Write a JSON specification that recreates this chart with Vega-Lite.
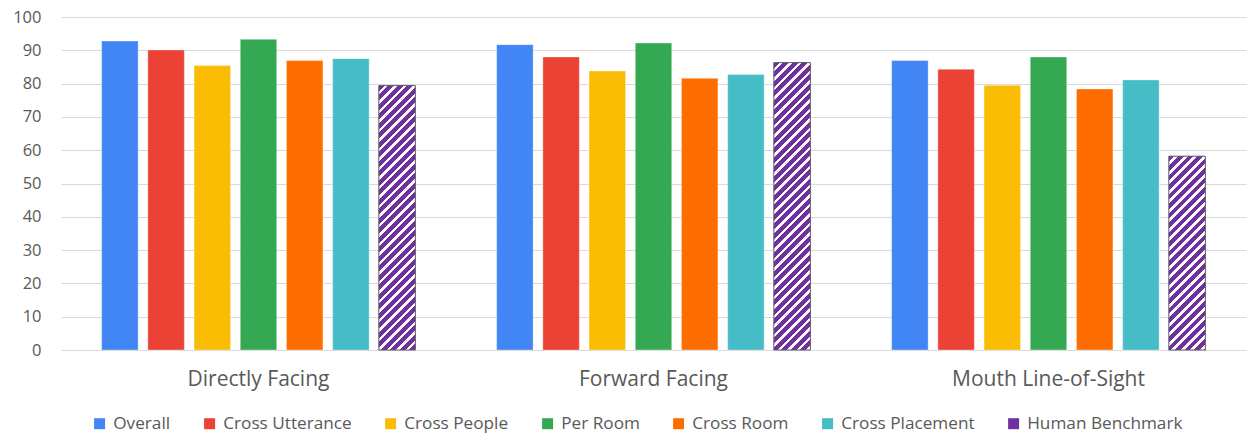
{
  "$schema": "https://vega.github.io/schema/vega-lite/v6.json",
  "width": 1185,
  "height": 333,
  "autosize": "none",
  "padding": {"left": 61, "top": 17, "right": 3, "bottom": 85},
  "config": {"view": {"stroke": null}, "font": "Open Sans"},
  "params": [
    {"name": "stripes", "value": [
      {"offset":0,"color":"#7030a0"},{"offset":0.0171,"color":"#7030a0"},{"offset":0.0171,"color":"#fff"},{"offset":0.0286,"color":"#fff"},
      {"offset":0.0286,"color":"#7030a0"},{"offset":0.0457,"color":"#7030a0"},{"offset":0.0457,"color":"#fff"},{"offset":0.0571,"color":"#fff"},
      {"offset":0.0571,"color":"#7030a0"},{"offset":0.0743,"color":"#7030a0"},{"offset":0.0743,"color":"#fff"},{"offset":0.0857,"color":"#fff"},
      {"offset":0.0857,"color":"#7030a0"},{"offset":0.1029,"color":"#7030a0"},{"offset":0.1029,"color":"#fff"},{"offset":0.1143,"color":"#fff"},
      {"offset":0.1143,"color":"#7030a0"},{"offset":0.1314,"color":"#7030a0"},{"offset":0.1314,"color":"#fff"},{"offset":0.1429,"color":"#fff"},
      {"offset":0.1429,"color":"#7030a0"},{"offset":0.16,"color":"#7030a0"},{"offset":0.16,"color":"#fff"},{"offset":0.1714,"color":"#fff"},
      {"offset":0.1714,"color":"#7030a0"},{"offset":0.1886,"color":"#7030a0"},{"offset":0.1886,"color":"#fff"},{"offset":0.2,"color":"#fff"},
      {"offset":0.2,"color":"#7030a0"},{"offset":0.2171,"color":"#7030a0"},{"offset":0.2171,"color":"#fff"},{"offset":0.2286,"color":"#fff"},
      {"offset":0.2286,"color":"#7030a0"},{"offset":0.2457,"color":"#7030a0"},{"offset":0.2457,"color":"#fff"},{"offset":0.2571,"color":"#fff"},
      {"offset":0.2571,"color":"#7030a0"},{"offset":0.2743,"color":"#7030a0"},{"offset":0.2743,"color":"#fff"},{"offset":0.2857,"color":"#fff"},
      {"offset":0.2857,"color":"#7030a0"},{"offset":0.3029,"color":"#7030a0"},{"offset":0.3029,"color":"#fff"},{"offset":0.3143,"color":"#fff"},
      {"offset":0.3143,"color":"#7030a0"},{"offset":0.3314,"color":"#7030a0"},{"offset":0.3314,"color":"#fff"},{"offset":0.3429,"color":"#fff"},
      {"offset":0.3429,"color":"#7030a0"},{"offset":0.36,"color":"#7030a0"},{"offset":0.36,"color":"#fff"},{"offset":0.3714,"color":"#fff"},
      {"offset":0.3714,"color":"#7030a0"},{"offset":0.3886,"color":"#7030a0"},{"offset":0.3886,"color":"#fff"},{"offset":0.4,"color":"#fff"},
      {"offset":0.4,"color":"#7030a0"},{"offset":0.4171,"color":"#7030a0"},{"offset":0.4171,"color":"#fff"},{"offset":0.4286,"color":"#fff"},
      {"offset":0.4286,"color":"#7030a0"},{"offset":0.4457,"color":"#7030a0"},{"offset":0.4457,"color":"#fff"},{"offset":0.4571,"color":"#fff"},
      {"offset":0.4571,"color":"#7030a0"},{"offset":0.4743,"color":"#7030a0"},{"offset":0.4743,"color":"#fff"},{"offset":0.4857,"color":"#fff"},
      {"offset":0.4857,"color":"#7030a0"},{"offset":0.5029,"color":"#7030a0"},{"offset":0.5029,"color":"#fff"},{"offset":0.5143,"color":"#fff"},
      {"offset":0.5143,"color":"#7030a0"},{"offset":0.5314,"color":"#7030a0"},{"offset":0.5314,"color":"#fff"},{"offset":0.5429,"color":"#fff"},
      {"offset":0.5429,"color":"#7030a0"},{"offset":0.56,"color":"#7030a0"},{"offset":0.56,"color":"#fff"},{"offset":0.5714,"color":"#fff"},
      {"offset":0.5714,"color":"#7030a0"},{"offset":0.5886,"color":"#7030a0"},{"offset":0.5886,"color":"#fff"},{"offset":0.6,"color":"#fff"},
      {"offset":0.6,"color":"#7030a0"},{"offset":0.6171,"color":"#7030a0"},{"offset":0.6171,"color":"#fff"},{"offset":0.6286,"color":"#fff"},
      {"offset":0.6286,"color":"#7030a0"},{"offset":0.6457,"color":"#7030a0"},{"offset":0.6457,"color":"#fff"},{"offset":0.6571,"color":"#fff"},
      {"offset":0.6571,"color":"#7030a0"},{"offset":0.6743,"color":"#7030a0"},{"offset":0.6743,"color":"#fff"},{"offset":0.6857,"color":"#fff"},
      {"offset":0.6857,"color":"#7030a0"},{"offset":0.7029,"color":"#7030a0"},{"offset":0.7029,"color":"#fff"},{"offset":0.7143,"color":"#fff"},
      {"offset":0.7143,"color":"#7030a0"},{"offset":0.7314,"color":"#7030a0"},{"offset":0.7314,"color":"#fff"},{"offset":0.7429,"color":"#fff"},
      {"offset":0.7429,"color":"#7030a0"},{"offset":0.76,"color":"#7030a0"},{"offset":0.76,"color":"#fff"},{"offset":0.7714,"color":"#fff"},
      {"offset":0.7714,"color":"#7030a0"},{"offset":0.7886,"color":"#7030a0"},{"offset":0.7886,"color":"#fff"},{"offset":0.8,"color":"#fff"},
      {"offset":0.8,"color":"#7030a0"},{"offset":0.8171,"color":"#7030a0"},{"offset":0.8171,"color":"#fff"},{"offset":0.8286,"color":"#fff"},
      {"offset":0.8286,"color":"#7030a0"},{"offset":0.8457,"color":"#7030a0"},{"offset":0.8457,"color":"#fff"},{"offset":0.8571,"color":"#fff"},
      {"offset":0.8571,"color":"#7030a0"},{"offset":0.8743,"color":"#7030a0"},{"offset":0.8743,"color":"#fff"},{"offset":0.8857,"color":"#fff"},
      {"offset":0.8857,"color":"#7030a0"},{"offset":0.9029,"color":"#7030a0"},{"offset":0.9029,"color":"#fff"},{"offset":0.9143,"color":"#fff"},
      {"offset":0.9143,"color":"#7030a0"},{"offset":0.9314,"color":"#7030a0"},{"offset":0.9314,"color":"#fff"},{"offset":0.9429,"color":"#fff"},
      {"offset":0.9429,"color":"#7030a0"},{"offset":0.96,"color":"#7030a0"},{"offset":0.96,"color":"#fff"},{"offset":0.9714,"color":"#fff"},
      {"offset":0.9714,"color":"#7030a0"},{"offset":0.9886,"color":"#7030a0"},{"offset":0.9886,"color":"#fff"},{"offset":1,"color":"#fff"}
    ]}
  ],
  "data": {"values": [
    {"group": "Directly Facing", "series": "Overall", "value": 92.8},
    {"group": "Directly Facing", "series": "Cross Utterance", "value": 90.1},
    {"group": "Directly Facing", "series": "Cross People", "value": 85.4},
    {"group": "Directly Facing", "series": "Per Room", "value": 93.3},
    {"group": "Directly Facing", "series": "Cross Room", "value": 86.9},
    {"group": "Directly Facing", "series": "Cross Placement", "value": 87.5},
    {"group": "Directly Facing", "series": "Human Benchmark", "value": 79.4},
    {"group": "Forward Facing", "series": "Overall", "value": 91.7},
    {"group": "Forward Facing", "series": "Cross Utterance", "value": 88.0},
    {"group": "Forward Facing", "series": "Cross People", "value": 83.8},
    {"group": "Forward Facing", "series": "Per Room", "value": 92.2},
    {"group": "Forward Facing", "series": "Cross Room", "value": 81.6},
    {"group": "Forward Facing", "series": "Cross Placement", "value": 82.7},
    {"group": "Forward Facing", "series": "Human Benchmark", "value": 86.3},
    {"group": "Mouth Line-of-Sight", "series": "Overall", "value": 86.9},
    {"group": "Mouth Line-of-Sight", "series": "Cross Utterance", "value": 84.3},
    {"group": "Mouth Line-of-Sight", "series": "Cross People", "value": 79.5},
    {"group": "Mouth Line-of-Sight", "series": "Per Room", "value": 88.0},
    {"group": "Mouth Line-of-Sight", "series": "Cross Room", "value": 78.4},
    {"group": "Mouth Line-of-Sight", "series": "Cross Placement", "value": 81.1},
    {"group": "Mouth Line-of-Sight", "series": "Human Benchmark", "value": 58.2}
  ]},
  "encoding": {
    "x": {
      "field": "group", "type": "nominal",
      "sort": ["Directly Facing", "Forward Facing", "Mouth Line-of-Sight"],
      "scale": {"paddingInner": 0, "paddingOuter": 0},
      "title": null,
      "axis": {"labelFont": "Open Sans", "labelFontSize": 21, "labelColor": "#595959", "ticks": false, "tickSize": 0, "domain": false, "labelPadding": 18, "labelAngle": 0, "labelLimit": 0, "grid": false}
    },
    "xOffset": {
      "field": "series", "type": "nominal",
      "scale": {"domain": ["Overall", "Cross Utterance", "Cross People", "Per Room", "Cross Room", "Cross Placement", "Human Benchmark"], "paddingInner": 0.21, "paddingOuter": 0.88}
    },
    "y": {
      "field": "value", "type": "quantitative",
      "scale": {"domain": [0, 100], "nice": false},
      "title": null,
      "axis": {"values": [0, 10, 20, 30, 40, 50, 60, 70, 80, 90, 100], "grid": true, "gridColor": "#d9d9d9", "gridWidth": 1, "domain": false, "ticks": false, "tickSize": 0, "labelPadding": 20, "labelFont": "Open Sans", "labelFontSize": 16.5, "labelColor": "#595959"}
    }
  },
  "layer": [
    {
      "mark": {"type": "bar", "stroke": "#ffffff", "strokeOpacity": 0.35, "strokeWidth": 1},
      "encoding": {
        "color": {
          "field": "series", "type": "nominal",
          "scale": {
            "domain": ["Overall", "Cross Utterance", "Cross People", "Per Room", "Cross Room", "Cross Placement", "Human Benchmark"],
            "range": ["#4285f4", "#ea4335", "#fbbc04", "#34a853", "#ff6d01", "#46bdc6", "#7030a0"]
          },
          "legend": {
            "title": null, "orient": "none", "legendX": 30, "legendY": 398, "direction": "horizontal",
            "symbolType": "square", "symbolSize": 121, "symbolStrokeWidth": 0,
            "labelFont": "Open Sans", "labelFontSize": 17.2, "labelColor": "#595959", "labelOffset": 5,
            "columnPadding": 30, "padding": 0,
            "encode": {"symbols": {
              "shape": {"condition": {"test": "datum.value === 'Human Benchmark'", "value": "M-1,-1L0.66,-1L-1,0.66ZM1,-0.66L1,1L-0.66,1Z"}, "value": "square"}
            }}
          }
        }
      }
    },
    {
      "transform": [{"filter": "datum.series === 'Human Benchmark' && datum.group === 'Directly Facing'"}],
      "mark": {"type": "bar", "stroke": "#5f5f5f", "strokeWidth": 1, "fill": {"expr": "{gradient: 'linear', x1: 0, y1: 0, x2: 0.17036, y2: 1.23405, stops: stripes}"}},
      "encoding": {}
    },
    {
      "transform": [{"filter": "datum.series === 'Human Benchmark' && datum.group === 'Forward Facing'"}],
      "mark": {"type": "bar", "stroke": "#5f5f5f", "strokeWidth": 1, "fill": {"expr": "{gradient: 'linear', x1: 0, y1: 0, x2: 0.14460, y2: 1.13856, stops: stripes}"}},
      "encoding": {}
    },
    {
      "transform": [{"filter": "datum.series === 'Human Benchmark' && datum.group === 'Mouth Line-of-Sight'"}],
      "mark": {"type": "bar", "stroke": "#5f5f5f", "strokeWidth": 1, "fill": {"expr": "{gradient: 'linear', x1: 0, y1: 0, x2: 0.31206, y2: 1.65691, stops: stripes}"}},
      "encoding": {}
    }
  ]
}
